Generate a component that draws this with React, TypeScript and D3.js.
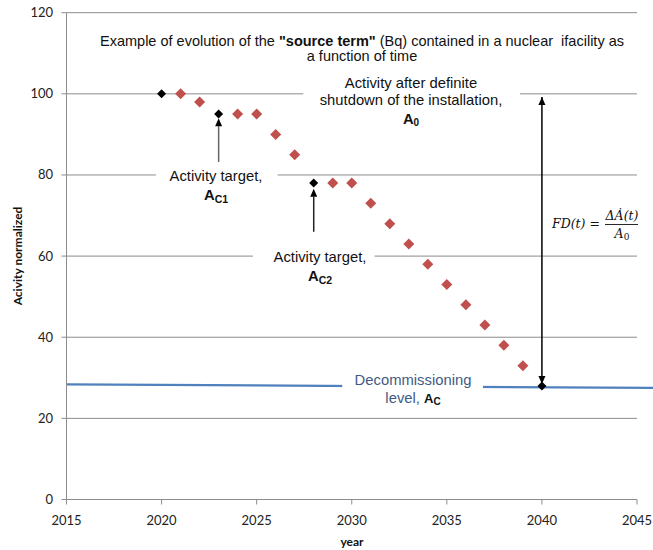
import * as d3 from "d3";

const redYears = [2021, 2022, 2024, 2025, 2026, 2027, 2029, 2030, 2031, 2032, 2033, 2034, 2035, 2036, 2037, 2038, 2039];
const redValues = [100, 98, 95, 95, 90, 85, 78, 78, 73, 68, 63, 58, 53, 48, 43, 38, 33];
const blackYears = [2020, 2023, 2028, 2040];
const blackValues = [100, 95, 78, 28];
const decommYears = [2015, 2046];
const decommValues = [28.4, 27.5];
const xTicks = [2015, 2020, 2025, 2030, 2035, 2040, 2045];
const yTicks = [0, 20, 40, 60, 80, 100, 120];

const W = 653;
const H = 550;
const tickFont = "Lato, 'Open Sans', sans-serif";
const textFont = "'Liberation Sans', Arial, sans-serif";

function Diamond({ cx, cy, r, fill }: { cx: number; cy: number; r: number; fill: string }) {
  return <path d={`M${cx},${cy - r}L${cx + r},${cy}L${cx},${cy + r}L${cx - r},${cy}Z`} fill={fill} />;
}

// vertical arrow with filled head(s)
function VArrow({ x, y1, y2, color, both }: { x: number; y1: number; y2: number; color: string; both?: boolean }) {
  const dir = y2 < y1 ? -1 : 1;
  const hl = 8;
  const hw = 3.5;
  return (
    <g>
      <line x1={x} x2={x} y1={y1} y2={y2 - dir * hl} stroke={color} strokeWidth={1.5} />
      <path d={`M${x},${y2}L${x - hw},${y2 - dir * hl}L${x + hw},${y2 - dir * hl}Z`} fill="#000" />
      {both && <path d={`M${x},${y1}L${x - hw},${y1 + dir * hl}L${x + hw},${y1 + dir * hl}Z`} fill="#000" />}
    </g>
  );
}

export default function App() {
  const x = d3.scaleLinear().domain([2015, 2045]).range([66.5, 637]);
  const y = d3.scaleLinear().domain([0, 120]).range([499.5, 12.7]);
  const line = d3
    .line<number>()
    .x((_, i) => x(decommYears[i]))
    .y((d) => y(d));

  // white boxes that cut the gridlines behind the annotation texts
  const gaps = [
    { x0: 2027.45, x1: 2038.85, y0: 99, y1: 101 },
    { x0: 2019.7, x1: 2026.1, y0: 79, y1: 81 },
    { x0: 2024.8, x1: 2031.2, y0: 59, y1: 61 },
    { x0: 2029.5, x1: 2036.9, y0: 26.5, y1: 29.5 },
  ];

  return (
    <svg width={W} height={H} style={{ position: "absolute", left: 0, top: 0, background: "#fff" }}>
      <rect width={W} height={H} fill="#fff" />
      {/* gridlines */}
      {yTicks.slice(1).map((t) => (
        <line key={t} x1={x(2015)} x2={x(2045)} y1={y(t)} y2={y(t)} stroke="#8c8c8c" strokeWidth={1} />
      ))}
      {/* decommissioning level */}
      <path d={line(decommValues) || ""} fill="none" stroke="#4f81bd" strokeWidth={2.2} />
      {gaps.map((g, i) => (
        <rect key={i} x={x(g.x0)} width={x(g.x1) - x(g.x0)} y={y(g.y1)} height={y(g.y0) - y(g.y1)} fill="#fff" />
      ))}

      {/* axes */}
      <line x1={x(2015)} x2={x(2015)} y1={y(0)} y2={y(120)} stroke="#8c8c8c" />
      <line x1={x(2015)} x2={x(2045)} y1={y(0)} y2={y(0)} stroke="#8c8c8c" />
      {yTicks.map((t) => (
        <g key={t}>
          <line x1={x(2015) - 5} x2={x(2015)} y1={y(t)} y2={y(t)} stroke="#8c8c8c" />
          <text x={53} y={y(t) + 4.5} textAnchor="end" fontFamily={tickFont} fontSize={13} fill="#222">
            {t}
          </text>
        </g>
      ))}
      {xTicks.map((t) => (
        <g key={t}>
          <line x1={x(t)} x2={x(t)} y1={y(0)} y2={y(0) + 5} stroke="#8c8c8c" />
          <text x={x(t)} y={525} textAnchor="middle" fontFamily={tickFont} fontSize={13} fill="#222">
            {t}
          </text>
        </g>
      ))}
      <text x={352} y={546} textAnchor="middle" fontFamily={tickFont} fontWeight="bold" fontSize={12} fill="#111">
        year
      </text>
      <text
        transform={`translate(22,${256}) rotate(-90)`}
        textAnchor="middle"
        fontFamily={tickFont}
        fontWeight="bold"
        fontSize={12}
        fill="#111"
      >
        Acivity normalized
      </text>

      {/* arrows */}
      <VArrow x={x(2023)} y1={y(83.2)} y2={y(94)} color="#666" />
      <VArrow x={x(2028)} y1={y(66)} y2={y(76.6)} color="#222" />
      <VArrow x={x(2040)} y1={y(99.2)} y2={y(28.5)} color="#000" both />

      {/* points */}
      {redYears.map((yr, i) => (
        <Diamond key={yr} cx={x(yr)} cy={y(redValues[i])} r={5.5} fill="#c0504d" />
      ))}
      {blackYears.map((yr, i) => (
        <Diamond key={yr} cx={x(yr)} cy={y(blackValues[i])} r={4.5} fill="#000" />
      ))}

      {/* title */}
      <text x={362} y={46} textAnchor="middle" fontFamily={textFont} fontSize={14.5} fill="#111" style={{ whiteSpace: "pre" }}>
        {'Example of evolution of the '}
        <tspan fontWeight="bold">"source term"</tspan>
        {' (Bq) contained in a nuclear  ifacility as'}
      </text>
      <text x={362} y={61} textAnchor="middle" fontFamily={textFont} fontSize={14.5} fill="#111">
        a function of time
      </text>

      {/* annotations */}
      <g fontFamily={textFont} fontSize={14.8} fill="#111" textAnchor="middle">
        <text x={411} y={88}>Activity after definite</text>
        <text x={411} y={105}>shutdown of the installation,</text>
        <text x={411} y={124} fontWeight="bold">
          A<tspan fontSize={10} dy={2}>0</tspan>
        </text>

        <text x={216} y={181}>Activity target,</text>
        <text x={216} y={200} fontWeight="bold">
          A<tspan fontSize={10.5} dy={3}>C1</tspan>
        </text>

        <text x={320} y={262}>Activity target,</text>
        <text x={320} y={281} fontWeight="bold">
          A<tspan fontSize={10.5} dy={3}>C2</tspan>
        </text>

        <text x={413} y={385} fill="#3f5a85">Decommissioning</text>
        <text x={413} y={403} fill="#3f5a85">
          level, <tspan fontWeight="bold" fill="#111" fontSize={13}>A</tspan>
          <tspan fontWeight="bold" fill="#111" fontSize={10} dy={2}>C</tspan>
        </text>
      </g>

      {/* FD(t) formula */}
      <g fontFamily="'DejaVu Serif', 'Liberation Serif', serif" fontStyle="italic" fontSize={12.5} fill="#111">
        <text x={552} y={228}>FD(t) =</text>
        <text x={622} y={220} textAnchor="middle">ΔȦ(t)</text>
        <line x1={605} x2={638} y1={224.5} y2={224.5} stroke="#111" strokeWidth={0.9} />
        <text x={622} y={238} textAnchor="middle">
          A<tspan fontSize={9} dy={2} fontStyle="normal">0</tspan>
        </text>
      </g>
    </svg>
  );
}
